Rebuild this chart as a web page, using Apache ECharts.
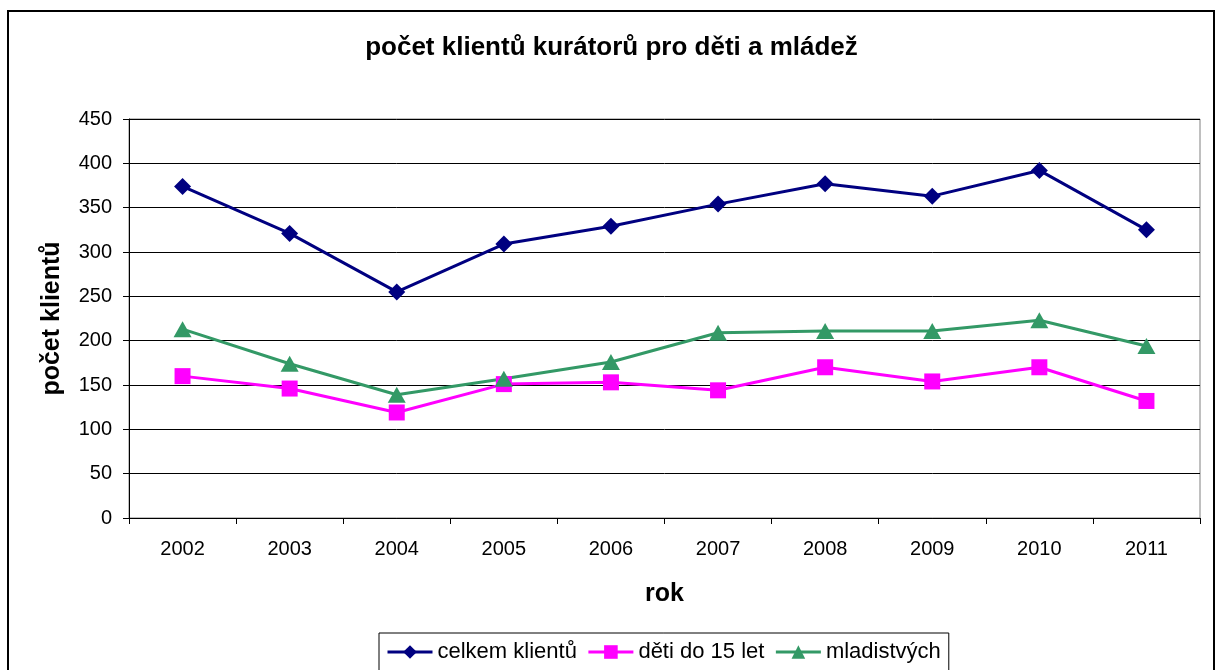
<!DOCTYPE html>
<html>
<head>
<meta charset="utf-8">
<script src="https://cdn.jsdelivr.net/npm/echarts@6/dist/echarts.min.js"></script>
<style>
  html, body { margin: 0; padding: 0; background: #fff; }
  #chart { width: 1223px; height: 670px; }
</style>
</head>
<body>
<div id="chart"></div>
<script>
// data
const years = ['2002', '2003', '2004', '2005', '2006', '2007', '2008', '2009', '2010', '2011'];
const celkem = [374, 321, 255, 309, 329, 354, 377, 363, 392, 325];
const deti = [160, 146, 119, 151, 153, 144, 170, 154, 170, 132];
const mladistvych = [213, 174, 139, 157, 176, 209, 211, 211, 223, 194];

const FONT = 'Liberation Sans, Arial, sans-serif';

const chart = echarts.init(document.getElementById('chart'));

const option = {
  animation: false,
  backgroundColor: '#fff',
  textStyle: { fontFamily: FONT, color: '#000' },
  title: {
    text: 'počet klientů kurátorů pro děti a mládež',
    left: 'center',
    top: 35,
    padding: 0,
    textStyle: { fontFamily: FONT, fontSize: 26, fontWeight: 'bold', color: '#000' }
  },
  // outer frame of the chart
  graphic: [{
    type: 'rect',
    shape: { x: 8, y: 11, width: 1206, height: 700 },
    style: { fill: 'none', stroke: '#000', lineWidth: 2 },
    silent: true
  }],
  grid: {
    left: 129, top: 119, right: 23, bottom: 152,
    show: true,
    borderColor: '#808080',
    borderWidth: 1
  },
  legend: {
    left: 379,
    top: 633,
    padding: [8, 8, 8, 7],
    itemGap: 10,
    itemWidth: 45,
    itemHeight: 17,
    borderColor: '#000',
    borderWidth: 1,
    lineStyle: { width: 3 },
    textStyle: { fontFamily: FONT, fontSize: 22, color: '#000' },
    data: ['celkem klientů', 'děti do 15 let', 'mladistvých']
  },
  xAxis: {
    type: 'category',
    data: years,
    boundaryGap: true,
    name: 'rok',
    nameLocation: 'middle',
    nameGap: 64,
    nameTextStyle: { fontFamily: FONT, fontSize: 25, fontWeight: 'bold', color: '#000' },
    axisLine: { lineStyle: { color: '#000', width: 1 } },
    axisTick: { show: true, length: 6, lineStyle: { color: '#000' } },
    axisLabel: { margin: 21, fontFamily: FONT, fontSize: 20, color: '#000' },
    splitLine: { show: false }
  },
  yAxis: {
    type: 'value',
    min: 0,
    max: 450,
    interval: 50,
    name: 'počet klientů',
    nameLocation: 'middle',
    nameGap: 64,
    nameTextStyle: { fontFamily: FONT, fontSize: 25, fontWeight: 'bold', color: '#000' },
    axisLine: { show: true, lineStyle: { color: '#000', width: 1 } },
    axisTick: { show: true, length: 6, lineStyle: { color: '#000' } },
    axisLabel: { margin: 17, fontFamily: FONT, fontSize: 20, color: '#000' },
    splitLine: { show: true, lineStyle: { color: '#000', width: 1 } }
  },
  series: [
    {
      name: 'celkem klientů',
      type: 'line',
      data: celkem,
      symbol: 'diamond',
      symbolSize: 17,
      lineStyle: { color: '#000080', width: 3 },
      itemStyle: { color: '#000080' }
    },
    {
      name: 'děti do 15 let',
      type: 'line',
      data: deti,
      symbol: 'rect',
      symbolSize: 16,
      lineStyle: { color: '#FF00FF', width: 3 },
      itemStyle: { color: '#FF00FF' }
    },
    {
      name: 'mladistvých',
      type: 'line',
      data: mladistvych,
      symbol: 'triangle',
      symbolSize: [18, 16],
      lineStyle: { color: '#339966', width: 3 },
      itemStyle: { color: '#339966' }
    }
  ]
};

chart.setOption(option);
</script>
</body>
</html>
